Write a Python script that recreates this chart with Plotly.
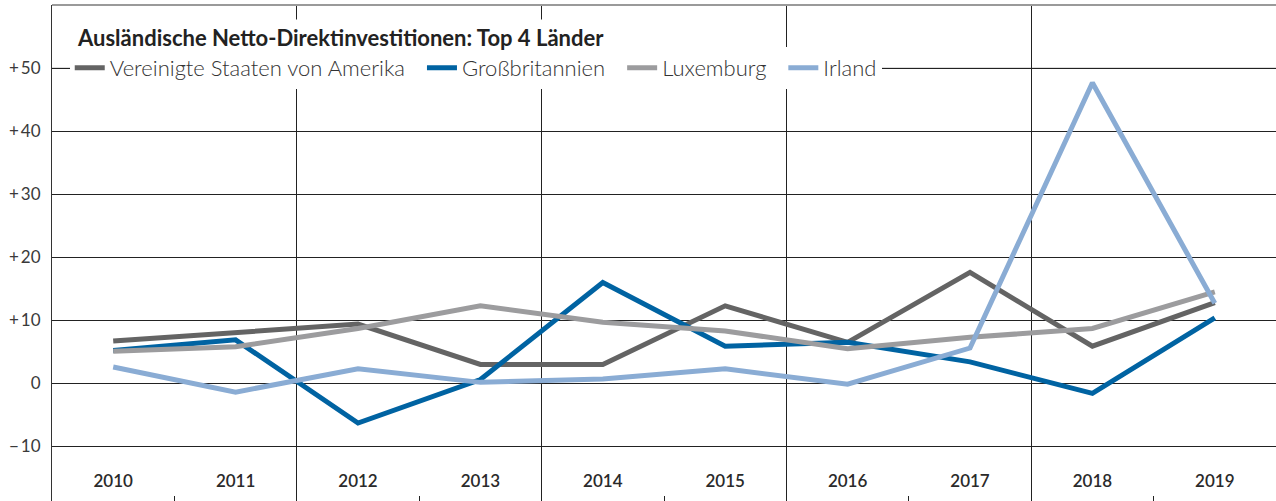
import plotly.graph_objects as go

years = ["2010", "2011", "2012", "2013", "2014", "2015", "2016", "2017", "2018", "2019"]
usa = [6.7, 8.1, 9.4, 3.0, 3.0, 12.3, 6.5, 17.6, 5.9, 12.8]
gbr = [5.2, 6.9, -6.3, 0.6, 16.0, 5.9, 6.5, 3.4, -1.6, 10.4]
lux = [5.1, 5.8, 8.7, 12.3, 9.7, 8.3, 5.5, 7.3, 8.7, 14.5]
irl = [2.6, -1.4, 2.3, 0.15, 0.7, 2.3, -0.15, 5.6, 47.7, 12.7]

series_names = ["Vereinigte Staaten von Amerika", "Großbritannien", "Luxemburg", "Irland"]
series_values = [usa, gbr, lux, irl]
series_colors = ["#646464", "#0063a2", "#9c9c9e", "#8aacd4"]

y_tickvals = [-10, 0, 10, 20, 30, 40, 50]
y_ticktext = ["\u2212\u200910", "0", "+\u200910", "+\u200920", "+\u200930", "+\u200940", "+\u200950"]

title_text = "Ausländische Netto-Direktinvestitionen: Top 4 Länder"

FONT = "Lato"
xpos = list(range(len(years)))
NB = "\u00a0\u00a0"

fig = go.Figure()
for i, (name, vals, col) in enumerate(zip(series_names, series_values, series_colors)):
    label = name + (NB if i < len(series_names) - 1 else "")
    fig.add_trace(go.Scatter(
        x=xpos, y=vals, name=label, mode="lines",
        line=dict(color=col, width=5),
        hoverinfo="skip",
    ))

fig.update_layout(
    template="none",
    width=1276, height=501,
    margin=dict(l=52, r=0, t=5, b=0, autoexpand=False),
    paper_bgcolor="white", plot_bgcolor="white",
    font=dict(family=FONT, color="#333"),
    showlegend=True,
    legend=dict(
        orientation="h", x=0.0145, xanchor="left", y=0.873, yanchor="middle",
        bgcolor="white", borderwidth=0,
        font=dict(family=FONT, size=22, color="#333", weight=300),
        itemsizing="constant",
    ),
    xaxis=dict(
        range=[-0.5, 9.5], tickmode="array", tickvals=xpos, ticktext=years,
        ticks="", showgrid=False, zeroline=False, showline=False,
        ticklabelposition="inside", ticklabelstandoff=8,
        tickfont=dict(family=FONT, size=17, color="#2a2a2a", weight=600),
        automargin=False,
        minor=dict(tickmode="array", tickvals=[0.5, 2.5, 4.5, 6.5, 8.5],
                   ticks="inside", ticklen=5, tickwidth=1, tickcolor="#222",
                   showgrid=False),
    ),
    xaxis2=dict(
        overlaying="x", anchor="y", side="bottom",
        range=[-0.5, 9.5], tickmode="array", tickvals=[1.5, 3.5, 5.5, 7.5],
        showticklabels=False, ticks="", showgrid=True, gridcolor="#222",
        gridwidth=1, zeroline=False, showline=False, automargin=False,
    ),
    yaxis=dict(
        range=[-18.68, 60.05], tickmode="array", tickvals=y_tickvals, ticktext=y_ticktext,
        showgrid=True, gridcolor="#222", gridwidth=1, zeroline=False,
        showline=True, linecolor="#333", linewidth=1, ticks="",
        ticklabelstandoff=7,
        tickfont=dict(family=FONT, size=17, color="#3a3a3a", weight=400),
        automargin=False,
    ),
    annotations=[dict(
        text="<b>" + title_text + "</b>", xref="paper", yref="paper",
        x=0.0163, xanchor="left", y=0.935, yanchor="middle", showarrow=False,
        font=dict(family=FONT, size=22, color="#222"),
        bgcolor="white", borderpad=4,
    )],
    shapes=[
        dict(type="line", xref="paper", yref="paper", x0=0, x1=1, y0=1, y1=1,
             line=dict(color="#9a9a9a", width=2), layer="above"),
        dict(type="line", xref="paper", yref="y", x0=0, x1=1, y0=50, y1=50,
             line=dict(color="#777", width=1.2), layer="below"),
    ],
)
fig.add_trace(go.Scatter(x=[0], y=[None], xaxis="x2", showlegend=False, hoverinfo="skip"))

fig.write_html("out.html", config={"displayModeBar": False},
               post_script="document.body.style.margin='0';document.body.style.padding='0';")
